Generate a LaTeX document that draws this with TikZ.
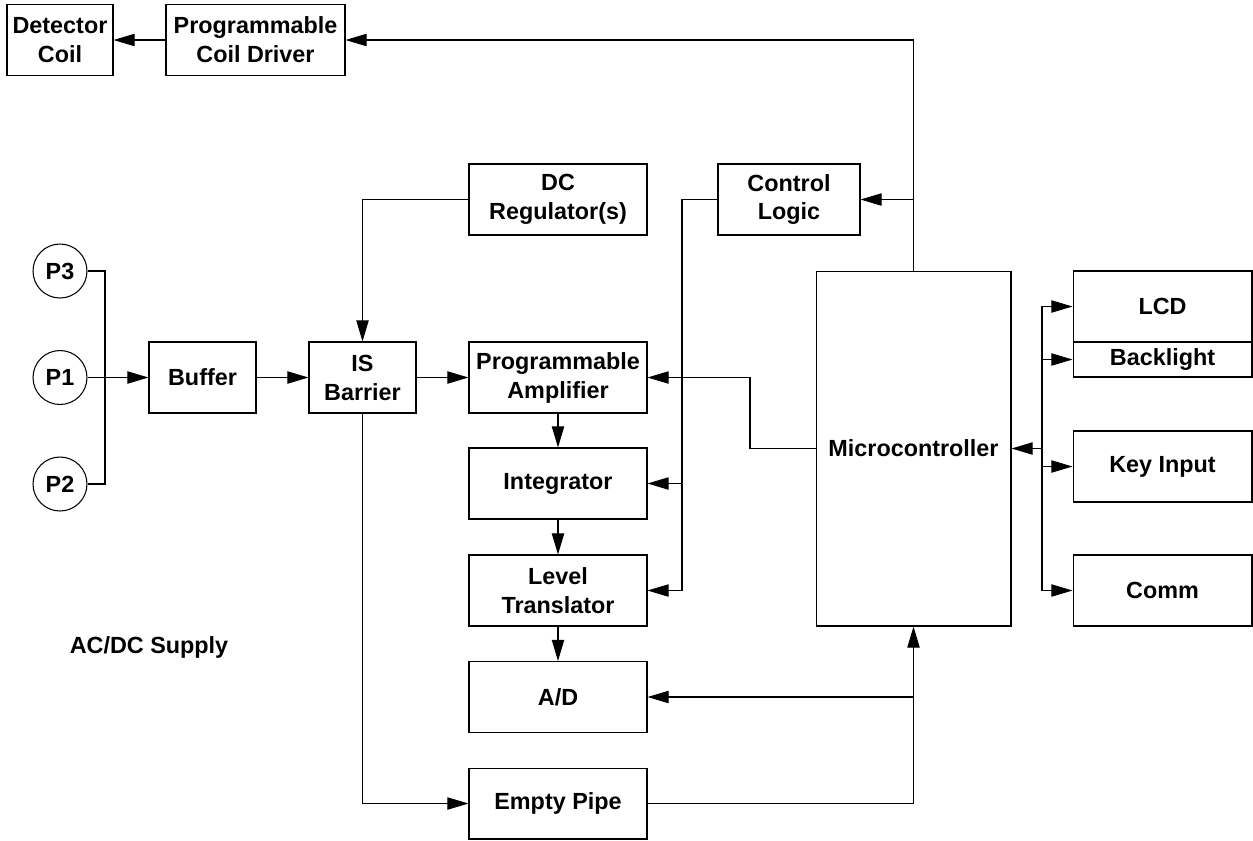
\documentclass[tikz,border=0pt]{standalone}
\usepackage{fontspec}
\setmainfont{Liberation Sans}
\usetikzlibrary{arrows.meta}

\tikzset{
  blk/.style={draw, line width=0.6pt, minimum width=3.56cm, minimum height=1.42cm,
    inner sep=0pt, align=center, font=\fontsize{13.3}{16.5}\selectfont\bfseries},
  pin/.style={draw, circle, line width=0.6pt, minimum size=1.08cm, inner sep=0pt,
    font=\fontsize{13.3}{16.5}\selectfont\bfseries},
  wire/.style={line width=0.6pt},
  arr/.style={wire, -{Triangle[length=12pt,width=7pt]}}
}

\begin{document}
\begin{tikzpicture}[x=0.02cm, y=-0.02cm]
    \useasboundingbox (0,0) rectangle (1253,840);
    \node[blk, minimum width=2.12cm] (det) at (60,40) {Detector\\Coil};
    \node[blk, minimum width=3.58cm] (pcd) at (255.5,40) {Programmable\\Coil Driver};
    \node[blk] (dcreg) at (558,199.5) {DC\\Regulator(s)};
    \node[blk, minimum width=2.84cm] (ctrl) at (789,199.5) {Control\\Logic};
    \node[pin] (p3) at (60,271) {P3};
    \node[pin] (p1) at (60,377.5) {P1};
    \node[pin] (p2) at (60,484) {P2};
    \node[blk, minimum width=2.14cm] (buf) at (202.5,377.5) {Buffer};
    \node[blk, minimum width=2.14cm] (isb) at (362.5,377.5) {IS\\Barrier};
    \node[blk] (pamp) at (558,377.5) {Programmable\\Amplifier};
    \node[blk] (integ) at (558,483.5) {Integrator};
    \node[blk] (lvl) at (558,590.5) {Level\\Translator};
    \node[blk] (ad) at (558,697) {A/D};
    \node[blk] (empty) at (558,803.5) {Empty Pipe};
    \node[blk, minimum width=3.9cm, minimum height=7.1cm] (micro) at (913.5,448.5) {Microcontroller};
    \node[blk, minimum width=3.58cm] (lcd) at (1162.5,306.5) {LCD};
    \node[blk, minimum width=3.58cm, minimum height=0.7cm] (back) at (1162.5,359.5) {Backlight};
    \node[blk, minimum width=3.58cm] (key) at (1162.5,466.5) {Key Input};
    \node[blk, minimum width=3.58cm] (comm) at (1162.5,590.5) {Comm};
    \node[font=\fontsize{13.3}{16.5}\selectfont\bfseries] (acdc) at (149,647) {AC/DC Supply};

    \coordinate (pbus) at (105,377.5);
    \coordinate (cbus) at (682,590.5);
    \coordinate (mbend) at (750,448.5);
    \coordinate (rbus) at (1042,448.5);

    \draw[arr] (pcd.west) -- (det.east);
    \draw[arr] (micro.north) |- (pcd.east);
    \draw[arr] (micro.north |- ctrl.east) -- (ctrl.east);
    \draw[arr] (dcreg.west) -| (isb.north);
    \draw[arr] (ctrl.west) -| (cbus) -- (lvl.east);
    \draw[arr] (cbus |- integ.east) -- (integ.east);
    \draw[wire] (p3.east) -| (pbus) |- (p2.east);
    \draw[arr] (p1.east) -- (buf.west);
    \draw[arr] (buf.east) -- (isb.west);
    \draw[arr] (isb.east) -- (pamp.west);
    \draw[arr] (isb.south) |- (empty.west);
    \draw[arr] (pamp.south) -- (integ.north);
    \draw[arr] (integ.south) -- (lvl.north);
    \draw[arr] (lvl.south) -- (ad.north);
    \draw[arr] (micro.west) -- (mbend) |- (pamp.east);
    \draw[arr] (empty.east) -| (micro.south);
    \draw[arr] (micro.south |- ad.east) -- (ad.east);
    \draw[arr] (rbus) -- (micro.east);
    \draw[arr] (rbus) |- (lcd.west);
    \draw[arr] (rbus |- back.west) -- (back.west);
    \draw[arr] (rbus) |- (key.west);
    \draw[arr] (rbus) |- (comm.west);
\end{tikzpicture}
\end{document}
